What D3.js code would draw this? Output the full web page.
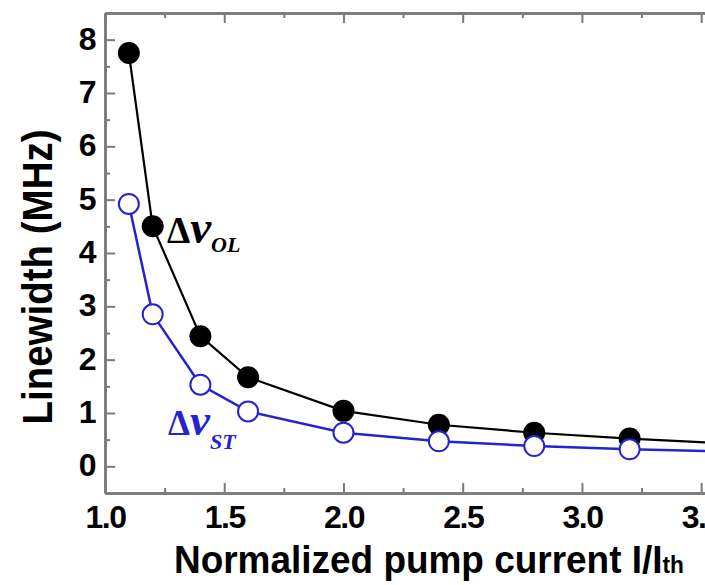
<!DOCTYPE html>
<html>
<head>
<meta charset="utf-8">
<script src="https://cdn.jsdelivr.net/npm/d3@7"></script>
<style>
  body { margin: 0; background: #fff; }
  svg { display: block; }
</style>
</head>
<body>
<div id="chart"></div>
<script>
// Linewidth vs normalized pump current

// data
var current = [1.1, 1.2, 1.4, 1.6, 2.0, 2.4, 2.8, 3.2, 3.6];
var olWidth = [7.75, 4.5, 2.44, 1.67, 1.04, 0.78, 0.63, 0.52, 0.43];
var stWidth = [4.92, 2.85, 1.53, 1.03, 0.63, 0.47, 0.38, 0.32, 0.28];
var xTicks = [1.0, 1.5, 2.0, 2.5, 3.0, 3.5];
var yTicks = [0, 1, 2, 3, 4, 5, 6, 7, 8];

var W = 705, H = 585;
var margin = { top: 13, left: 105 };
var width = 620, height = 480;

var axisGray = "#7a7a7a";
var blue = "#2424cf";

var svg = d3.select("#chart").append("svg")
    .attr("width", W)
    .attr("height", H);

var g = svg.append("g")
    .attr("transform", "translate(" + margin.left + "," + margin.top + ")");

var x = d3.scaleLinear().domain([1.0, 3.6]).range([0, width]);
var y = d3.scaleLinear().domain([-0.5, 8.5]).range([height, 0]);

var xMinor = d3.range(1.25, 3.6, 0.5);
var yMinor = d3.range(-0.5, 8.6, 1);

// minor ticks first
g.append("g").attr("class", "axis minor")
    .call(d3.axisLeft(y).tickValues(yMinor).tickSize(-5).tickSizeOuter(0).tickFormat(""));
g.append("g").attr("class", "axis minor")
    .attr("transform", "translate(0," + height + ")")
    .call(d3.axisBottom(x).tickValues(xMinor).tickSize(-5).tickSizeOuter(0).tickFormat(""));
g.append("g").attr("class", "axis minor")
    .call(d3.axisTop(x).tickValues(xMinor).tickSize(-5).tickSizeOuter(0).tickFormat(""));

// major ticks + labels
var yAxis = g.append("g").attr("class", "axis")
    .call(d3.axisLeft(y).tickValues(yTicks).tickSize(-10).tickSizeOuter(0).tickPadding(10)
      .tickFormat(d3.format("d")));
var xAxis = g.append("g").attr("class", "axis")
    .attr("transform", "translate(0," + height + ")")
    .call(d3.axisBottom(x).tickValues(xTicks).tickSize(-10).tickSizeOuter(0).tickPadding(12)
      .tickFormat(d3.format(".1f")));
g.append("g").attr("class", "axis")
    .call(d3.axisTop(x).tickValues(xTicks).tickSize(-10).tickSizeOuter(0).tickFormat(""));

g.selectAll(".axis .domain").attr("stroke", axisGray).attr("stroke-width", 2.5);
g.selectAll(".axis .tick line").attr("stroke", axisGray).attr("stroke-width", 2);
g.selectAll(".axis .tick text")
    .attr("fill", "#000")
    .style("font-family", "'Liberation Sans', Arial, sans-serif")
    .style("font-weight", "bold")
    .style("font-size", "32px")
    .style("letter-spacing", "-1.5px");
yAxis.selectAll(".tick text").attr("dy", "0.3em");
xAxis.selectAll(".tick text").attr("dy", "0.71em");

// clip to the plot
svg.append("clipPath").attr("id", "plotClip")
  .append("rect").attr("x", -20).attr("y", -20).attr("width", width + 40).attr("height", height + 40);

var plot = g.append("g").attr("clip-path", "url(#plotClip)");

var line = d3.line()
    .x(function(d) { return x(d[0]); })
    .y(function(d) { return y(d[1]); });

var olData = d3.zip(current, olWidth);
var stData = d3.zip(current, stWidth);

plot.append("path")
    .datum(olData)
    .attr("d", line)
    .attr("fill", "none")
    .attr("stroke", "#000")
    .attr("stroke-width", 2.2);

plot.selectAll(".ol")
  .data(olData)
  .enter().append("circle")
    .attr("class", "ol")
    .attr("cx", function(d) { return x(d[0]); })
    .attr("cy", function(d) { return y(d[1]); })
    .attr("r", 11)
    .attr("fill", "#000");

plot.append("path")
    .datum(stData)
    .attr("d", line)
    .attr("fill", "none")
    .attr("stroke", blue)
    .attr("stroke-width", 2.5);

plot.selectAll(".st")
  .data(stData)
  .enter().append("circle")
    .attr("class", "st")
    .attr("cx", function(d) { return x(d[0]); })
    .attr("cy", function(d) { return y(d[1]); })
    .attr("r", 10)
    .attr("fill", "#fff")
    .attr("stroke", blue)
    .attr("stroke-width", 2);

// series labels
function seriesLabel(px, py, color, size, sub, subDy) {
  var t = svg.append("text")
      .attr("x", px)
      .attr("y", py)
      .attr("fill", color)
      .style("font-family", "'Liberation Serif', 'Times New Roman', serif")
      .style("font-weight", "bold");
  t.append("tspan").style("font-size", size + "px").text("\u0394");
  t.append("tspan").style("font-size", (size + 10) + "px").style("font-style", "italic").text("\u03bd");
  t.append("tspan").attr("dy", subDy).style("font-size", "22px").style("font-style", "italic").text(sub);
}
seriesLabel(167, 243, "#000", 37, "OL", 9);
seriesLabel(168, 435, blue, 35, "ST", 14);

// axis titles
svg.append("text")
    .attr("transform", "translate(52,277) rotate(-90)")
    .attr("text-anchor", "middle")
    .attr("textLength", 295)
    .attr("lengthAdjust", "spacingAndGlyphs")
    .style("font-family", "'Liberation Sans', Arial, sans-serif")
    .style("font-weight", "bold")
    .style("font-size", "42px")
    .text("Linewidth (MHz)");

var xt = svg.append("text")
    .attr("x", 174)
    .attr("y", 573)
    .attr("textLength", 510)
    .attr("lengthAdjust", "spacingAndGlyphs")
    .style("font-family", "'Liberation Sans', Arial, sans-serif")
    .style("font-weight", "bold")
    .style("font-size", "39px");
xt.append("tspan").text("Normalized pump current I/I");
xt.append("tspan").style("font-size", "24px").text("th");
</script>
</body>
</html>
